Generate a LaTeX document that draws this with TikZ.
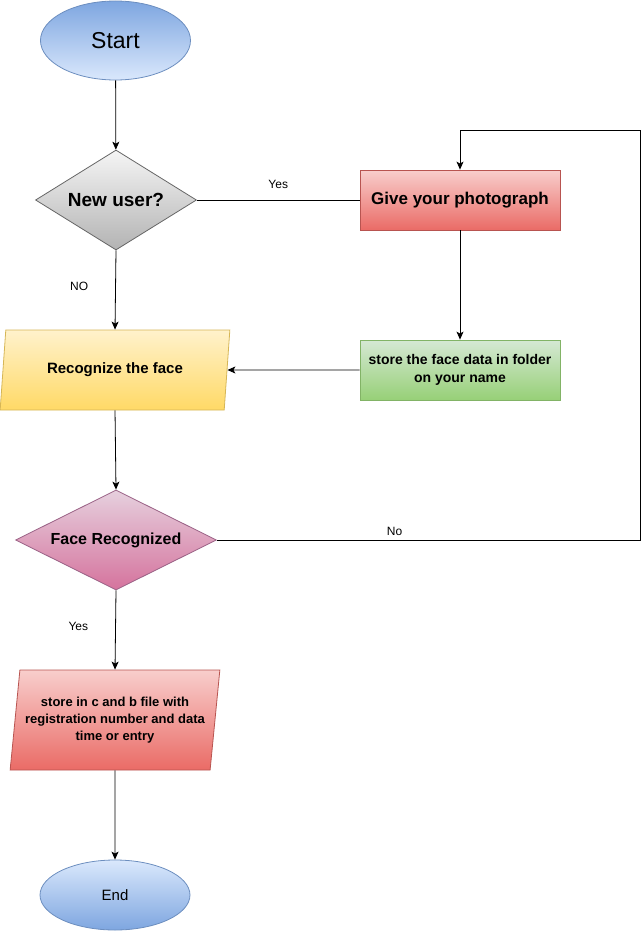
\documentclass[tikz,border=0pt]{standalone}
\usepackage{fontspec}
\setmainfont{Liberation Sans}
\usetikzlibrary{shapes.geometric,arrows.meta}
\definecolor{bluetop}{HTML}{DAE8FC}
\definecolor{bluebot}{HTML}{7EA6E0}
\definecolor{blueline}{HTML}{6C8EBF}
\definecolor{greytop}{HTML}{F5F5F5}
\definecolor{greybot}{HTML}{B3B3B3}
\definecolor{greyline}{HTML}{666666}
\definecolor{redtop}{HTML}{F8CECC}
\definecolor{redbot}{HTML}{EA6B66}
\definecolor{redline}{HTML}{B85450}
\definecolor{greentop}{HTML}{D5E8D4}
\definecolor{greenbot}{HTML}{97D077}
\definecolor{greenline}{HTML}{82B366}
\definecolor{yellowtop}{HTML}{FFF2CC}
\definecolor{yellowbot}{HTML}{FFD966}
\definecolor{yellowline}{HTML}{D6B656}
\definecolor{pinktop}{HTML}{E6D0DE}
\definecolor{pinkbot}{HTML}{D5739D}
\definecolor{pinkline}{HTML}{996185}
\tikzstyle{terminal}=[ellipse,draw=blueline,line width=0.8pt,minimum width=150pt,minimum height=79pt,inner sep=0pt]
\tikzstyle{decision}=[diamond,aspect=2,line width=0.8pt,inner sep=0pt,font=\bfseries]
\tikzstyle{process}=[rectangle,line width=0.8pt,minimum width=200pt,minimum height=60pt,inner sep=0pt,font=\bfseries,align=center]
\tikzstyle{io}=[trapezium,trapezium stretches=true,line width=0.8pt,inner sep=0pt,font=\bfseries,align=center]
\tikzstyle{arrow}=[line width=0.8pt,-{Stealth[length=8pt,width=7pt,inset=2pt]}]
\tikzstyle{link}=[line width=0.8pt]
\tikzstyle{tag}=[font=\fontsize{12}{14}\selectfont,inner sep=1pt]

\begin{document}
\begin{tikzpicture}[x=1pt,y=-1pt]
\useasboundingbox (0,0) rectangle (642,931);

\node[terminal,top color=bluebot,bottom color=bluetop,font=\fontsize{23}{27}\selectfont] (start) at (115.5,40.5) {Start};
\node[decision,draw=greyline,top color=greytop,bottom color=greybot,minimum width=161pt,minimum height=100pt,aspect=1.61,font=\bfseries\fontsize{19}{22}\selectfont] (newuser) at (116,200) {New user?};
\node[process,draw=redline,top color=redtop,bottom color=redbot,font=\bfseries\fontsize{17}{20}\selectfont] (photo) at (460,200) {Give your photograph};
\node[process,draw=greenline,top color=greentop,bottom color=greenbot,font=\bfseries\fontsize{14}{18}\selectfont] (folder) at (460,370) {store the face data in folder\\on your name};
\node[io,draw=yellowline,top color=yellowtop,bottom color=yellowbot,trapezium left angle=75.96,trapezium right angle=104.04,minimum width=230pt,minimum height=80pt,font=\bfseries\fontsize{15}{18}\selectfont] (recog) at (115,370) {Recognize the face};
\node[decision,draw=pinkline,top color=pinktop,bottom color=pinkbot,minimum width=201pt,minimum height=100pt,font=\bfseries\fontsize{16}{19}\selectfont] (face) at (116,540) {Face Recognized};
\node[io,draw=redline,top color=redtop,bottom color=redbot,trapezium left angle=78.69,trapezium right angle=101.31,minimum width=210pt,minimum height=100pt,font=\bfseries\fontsize{13}{17}\selectfont] (store) at (115,720) {store in c and b file with\\registration number and data\\time or entry};
\node[terminal,top color=bluetop,bottom color=bluebot,minimum height=70pt,font=\fontsize{15}{18}\selectfont] (end) at (115,895) {End};

\coordinate (backtop) at (640,130);

\draw[arrow] (start) -- (newuser);
\draw[link] (newuser.east) -- node[tag,above=10pt]{Yes} (photo.west);
\draw[arrow] (newuser.south) -- node[tag,pos=0.45,left=26pt]{NO} (recog.north);
\draw[arrow] (photo) -- (folder);
\draw[arrow] (folder.west) -- (recog.east);
\draw[arrow] (recog.south) -- (face.north);
\draw[arrow] (face.east) -| node[tag,pos=0.21,above=3pt]{No} (backtop) -| (photo.north);
\draw[arrow] (face.south) -- node[tag,pos=0.45,left=26pt]{Yes} (store.north);
\draw[arrow] (store.south) -- (end);
\end{tikzpicture}
\end{document}
